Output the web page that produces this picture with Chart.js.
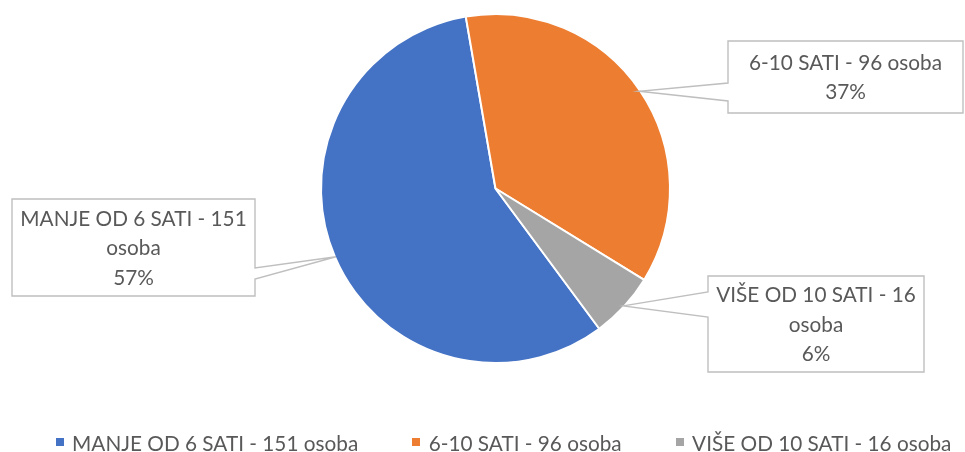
<!DOCTYPE html>
<html><head><meta charset="utf-8">
<style>html,body{margin:0;padding:0;background:#fff;overflow:hidden}</style>
<script src="https://cdn.jsdelivr.net/npm/chart.js@4.4.1/dist/chart.umd.min.js"></script>
</head><body>
<canvas id="c" width="965" height="452" style="display:block;width:965px;height:452px"></canvas>
<script>
// ---- data ----
const categories = ['MANJE OD 6 SATI - 151 osoba', '6-10 SATI - 96 osoba', 'VIŠE OD 10 SATI - 16 osoba'];
const values = [151, 96, 16];
const colors = ['#4472C4', '#ED7D31', '#A5A5A5'];

// ---- layout / style ----
const FAMILY = 'Lato, "Open Sans", sans-serif';
const TEXT_COLOR = '#595959';
const CALLOUT_BOXES = [
  {x: 12,  y: 199, w: 243, h: 97, side: 'right', b0: 268, b1: 279},
  {x: 728, y: 41,  w: 235, h: 72, side: 'left',  b0: 83,  b1: 101},
  {x: 708, y: 276, w: 216, h: 96, side: 'left',  b0: 292, b1: 317}
];
const LINE_H = 29.5;
const LEGEND = {centerX: 503.5, midY: 443.7, box: 8, textGap: 16.5, itemGap: 54};

const mctx = document.createElement('canvas').getContext('2d');
mctx.font = '24px ' + FAMILY;
let fs = 24 * 285 / mctx.measureText(categories[0]).width;
fs = Math.round(fs * 4) / 4;
const FONT = fs + 'px ' + FAMILY;

const total = values.reduce((a, b) => a + b, 0);
const percentLabels = values.map(v => Math.round(v / total * 100) + '%');

function wrap(ctx, text, maxW) {
  const words = text.split(' ');
  const lines = [];
  let cur = '';
  words.forEach(w => {
    const t = cur ? cur + ' ' + w : w;
    if (ctx.measureText(t).width > maxW && cur) { lines.push(cur); cur = w; }
    else cur = t;
  });
  if (cur) lines.push(cur);
  return lines;
}

const calloutPlugin = {
  id: 'callouts',
  afterDatasetsDraw(chart) {
    const ctx = chart.ctx;
    const meta = chart.getDatasetMeta(0);
    ctx.save();
    ctx.font = FONT;
    const capH = ctx.measureText('M').actualBoundingBoxAscent || fs * 0.72;
    meta.data.forEach((arc, i) => {
      const p = arc.getProps(['x', 'y', 'startAngle', 'endAngle', 'outerRadius'], true);
      const mid = (p.startAngle + p.endAngle) / 2;
      const tx = p.x + Math.cos(mid) * (p.outerRadius - 1);
      const ty = p.y + Math.sin(mid) * (p.outerRadius - 1);
      const b = CALLOUT_BOXES[i];
      ctx.fillStyle = '#ffffff';
      ctx.fillRect(b.x, b.y, b.w, b.h);
      ctx.beginPath();
      if (b.side === 'right') {
        ctx.moveTo(b.x, b.y);
        ctx.lineTo(b.x + b.w, b.y);
        ctx.lineTo(b.x + b.w, b.b0);
        ctx.lineTo(tx, ty);
        ctx.lineTo(b.x + b.w, b.b1);
        ctx.lineTo(b.x + b.w, b.y + b.h);
        ctx.lineTo(b.x, b.y + b.h);
        ctx.closePath();
      } else {
        ctx.moveTo(b.x, b.y);
        ctx.lineTo(b.x + b.w, b.y);
        ctx.lineTo(b.x + b.w, b.y + b.h);
        ctx.lineTo(b.x, b.y + b.h);
        ctx.lineTo(b.x, b.b1);
        ctx.lineTo(tx, ty);
        ctx.lineTo(b.x, b.b0);
        ctx.closePath();
      }
      ctx.lineWidth = 1.4;
      ctx.strokeStyle = '#bfbfbf';
      ctx.stroke();
      const lines = wrap(ctx, categories[i], b.w - 14);
      lines.push(percentLabels[i]);
      const cx = b.x + b.w / 2;
      const cy = b.y + b.h / 2;
      ctx.fillStyle = TEXT_COLOR;
      ctx.textAlign = 'center';
      ctx.textBaseline = 'alphabetic';
      const n = lines.length;
      lines.forEach((ln, k) => {
        ctx.fillText(ln, cx, cy + (k - (n - 1) / 2) * LINE_H + capH / 2);
      });
    });
    ctx.restore();
  },
  afterDraw(chart) {
    // legend
    const ctx = chart.ctx;
    ctx.save();
    ctx.font = FONT;
    const capH = ctx.measureText('M').actualBoundingBoxAscent || fs * 0.72;
    const labels = chart.data.labels;
    const bg = chart.data.datasets[0].backgroundColor;
    const widths = labels.map(l => ctx.measureText(l).width);
    const totalW = widths.reduce((a, b) => a + b, 0) + labels.length * LEGEND.textGap + (labels.length - 1) * LEGEND.itemGap;
    let x = LEGEND.centerX - totalW / 2;
    ctx.textAlign = 'left';
    ctx.textBaseline = 'alphabetic';
    labels.forEach((l, i) => {
      ctx.fillStyle = bg[i];
      ctx.fillRect(Math.round(x), Math.round(LEGEND.midY - 1.7 - LEGEND.box / 2), LEGEND.box, LEGEND.box);
      ctx.fillStyle = TEXT_COLOR;
      ctx.fillText(l, x + LEGEND.textGap, LEGEND.midY + capH / 2);
      x += LEGEND.textGap + widths[i] + LEGEND.itemGap;
    });
    ctx.restore();
  }
};

new Chart(document.getElementById('c'), {
  type: 'pie',
  data: {
    labels: categories,
    datasets: [{
      data: values,
      backgroundColor: colors,
      borderColor: '#ffffff',
      borderWidth: 2,
      radius: 174.5
    }]
  },
  options: {
    responsive: false,
    animation: false,
    events: [],
    rotation: 143.5,
    layout: {padding: {left: 26, right: 0, top: 14, bottom: 89}},
    plugins: {
      tooltip: {enabled: false},
      legend: {display: false}
    }
  },
  plugins: [calloutPlugin]
});
</script>
</body></html>
